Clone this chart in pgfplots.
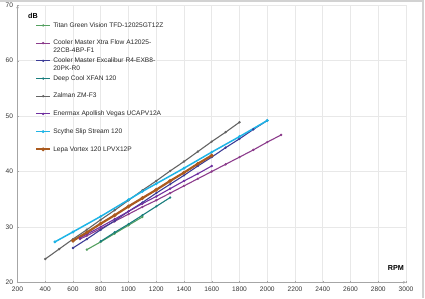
\documentclass[border=0pt]{standalone}
\usepackage{fontspec}
\setmainfont{Liberation Sans}
\usepackage{pgfplots}
\pgfplotsset{compat=1.18}
\usetikzlibrary{arrows.meta}
\definecolor{titan}{RGB}{84,160,96}
\definecolor{xtra}{RGB}{140,60,140}
\definecolor{excal}{RGB}{60,60,150}
\definecolor{deepcool}{RGB}{25,125,125}
\definecolor{zalman}{RGB}{100,100,100}
\definecolor{enermax}{RGB}{112,48,160}
\definecolor{scythe}{RGB}{30,180,230}
\definecolor{lepa}{RGB}{170,90,30}
\newcommand{\tf}{\fontsize{6.6}{8}\selectfont}
\begin{document}
\begin{tikzpicture}[x=1pt,y=1pt]
\useasboundingbox (0,0) rectangle (425,298);
\draw[gray!35, line width=1.5pt] (0,297.2) -- (423.2,297.2) -- (423.2,0);
\begin{axis}[
  at={(17.5pt,15.7pt)}, anchor=south west,
  scale only axis, width=388.5pt, height=277pt,
  xmin=200, xmax=3000, ymin=20, ymax=70,
  xtick={200,400,...,3000}, ytick={20,30,...,70},
  axis lines=left,
  axis line style={gray!70, -{Stealth[length=3pt,width=2.5pt]}},
  tick style={gray!70}, major tick length=2pt,
  grid=major, grid style={gray!18, line width=0.6pt},
  tick label style={font=\tf, text=black!80},
  /pgf/number format/1000 sep={},
  /pgf/number format/assume math mode=true,
  legend cell align=left,
  legend image code/.code={\draw[mark repeat=2,mark phase=2] plot coordinates {(0pt,0pt)(7pt,0pt)(14pt,0pt)};},
  legend style={at={(axis description cs:0.037,0.947)}, anchor=north west,
    draw=none, fill=none, font=\tf, text=black!85, row sep=11.2pt,
    nodes={inner ysep=0pt, inner xsep=2pt, text height=5pt, text depth=1.5pt}},
  every axis plot/.append style={line width=1.1pt, mark=*, mark size=0.55pt},
  clip=false,
]
\addplot[color=titan] coordinates {(700,25.9)(800,27.3)(900,28.8)(1000,30.3)(1100,31.8)};
\addlegendentry{Titan Green Vision TFD-12025GT12Z}
\addplot[color=xtra] coordinates {(650,27.8)(700,28.4)(800,29.7)(900,31.0)(1000,32.3)(1100,33.6)(1200,34.8)(1300,36.1)(1400,37.4)(1500,38.7)(1600,40.0)(1700,41.3)(1800,42.6)(1900,43.9)(2000,45.3)(2100,46.6)};
\addlegendentry{\begin{tabular}[t]{@{}l@{}}Cooler Master Xtra Flow A12025-\\22CB-4BP-F1\end{tabular}}
\addplot[color=excal] coordinates {(600,26.2)(700,27.8)(800,29.5)(900,31.1)(1000,32.8)(1100,34.4)(1200,36.1)(1300,37.7)(1400,39.3)(1500,41.0)(1600,42.6)(1700,44.3)(1800,45.9)(1900,47.6)(2000,49.2)};
\addlegendentry{\begin{tabular}[t]{@{}l@{}}Cooler Master Excalibur R4-EXB8-\\20PK-R0\end{tabular}}
\addplot[color=deepcool] coordinates {(800,27.4)(900,29.0)(1000,30.5)(1100,32.1)(1200,33.7)(1300,35.3)};
\addlegendentry{Deep Cool XFAN 120}
\addplot[color=zalman] coordinates {(400,24.2)(500,26.0)(600,27.8)(700,29.5)(800,31.3)(900,33.0)(1000,34.8)(1100,36.6)(1200,38.3)(1300,40.1)(1400,41.8)(1500,43.6)(1600,45.4)(1700,47.1)(1800,48.9)};
\addlegendentry{Zalman ZM-F3}
\addplot[color=enermax] coordinates {(650,28.0)(700,28.7)(800,30.0)(900,31.4)(1000,32.8)(1100,34.2)(1200,35.5)(1300,36.9)(1400,38.3)(1500,39.6)(1600,41.0)};
\addlegendentry{Enermax Apollish Vegas UCAPV12A}
\addplot[color=scythe, line width=1.5pt] coordinates {(470,27.3)(600,29.1)(800,31.9)(1000,34.9)(1100,36.4)(1200,37.8)(1400,40.6)(1600,43.5)(1800,46.3)(2000,49.2)};
\addlegendentry{Scythe Slip Stream 120}
\addplot[color=lepa, line width=2.2pt] coordinates {(600,27.5)(700,29.0)(800,30.6)(900,32.1)(1000,33.7)(1100,35.2)(1200,36.7)(1300,38.3)(1400,39.8)(1500,41.4)(1600,42.9)};
\addlegendentry{Lepa Vortex 120 LPVX12P}
\node[font=\fontsize{7.2}{8}\selectfont\bfseries] at (rel axis cs:0.04,0.961) {dB};
\node[font=\fontsize{7.2}{8}\selectfont\bfseries] at (rel axis cs:0.974,0.052) {RPM};
\end{axis}
\end{tikzpicture}
\end{document}
